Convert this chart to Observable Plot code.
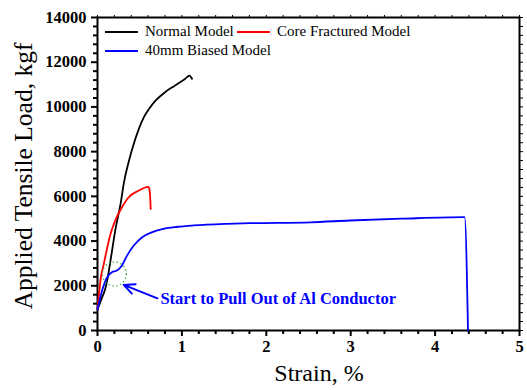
<!DOCTYPE html>
<html><head><meta charset="utf-8">
<script src="https://cdn.jsdelivr.net/npm/d3@7"></script>
<script src="https://cdn.jsdelivr.net/npm/@observablehq/plot@0.6"></script>
<style>
body{margin:0;background:#fff;}
#wrap{position:relative;width:527px;height:390px;overflow:hidden;}
.leg{position:absolute;font-family:"Liberation Serif","Times New Roman",serif;font-size:15px;display:flex;align-items:center;white-space:nowrap;line-height:1;}
.leg span.sw{display:inline-block;width:33px;height:0;border-top:2px solid;margin-right:7px;}
</style></head>
<body><div id="wrap"></div>
<script>
// Series: strain (%) and load (kgf)
const normalStrain = [0, 0.055, 0.086, 0.115, 0.154, 0.21, 0.28, 0.31, 0.37, 0.43, 0.49, 0.55, 0.61, 0.69, 0.80, 0.92, 1.04, 1.09, 1.12];
const normalLoad   = [940, 1490, 1790, 2240, 3130, 4470, 5810, 6550, 7550, 8350, 9020, 9540, 9910, 10290, 10660, 10960, 11260, 11400, 11260];

const coreStrain = [0, 0.015, 0.035, 0.075, 0.154, 0.21, 0.29, 0.37, 0.49, 0.58, 0.605, 0.62, 0.63];
const coreLoad   = [940, 1500, 2240, 2980, 4320, 4920, 5510, 5960, 6260, 6410, 6420, 6200, 5440];

const biasStrain = [0, 0.055, 0.115, 0.17, 0.23, 0.29, 0.35, 0.43, 0.53, 0.65, 0.78, 0.95, 1.14, 1.53, 1.81, 2.52, 2.99, 3.60, 4.35, 4.39];
const biasLoad   = [940, 1790, 2380, 2610, 2680, 2910, 3350, 3800, 4170, 4400, 4550, 4640, 4700, 4770, 4800, 4840, 4920, 5000, 5070, 0];

const seriesNames  = ["Normal Model", "Core Fractured Model", "40mm Biased Model"];
const seriesColors = ["#000000", "#ff0000", "#0000ff"];

const xMajor = [0, 1, 2, 3, 4, 5];
const yMajor = [0, 2000, 4000, 6000, 8000, 10000, 12000, 14000];

const xTitle = "Strain, %";
const yTitle = "Applied Tensile Load, kgf";

// annotation
const noteText = "Start to Pull Out of Al Conductor";
const noteCircle = {strain: 0.20, load: 2530};
const noteArrowFrom = {strain: 0.71, load: 1440};
const noteArrowTo = {strain: 0.31, load: 2040};

const toRows = (xs, ys, name) => xs.map((x, i) => ({strain: x, load: ys[i], series: name}));
const rows = [
  ...toRows(normalStrain, normalLoad, seriesNames[0]),
  ...toRows(coreStrain, coreLoad, seriesNames[1]),
  ...toRows(biasStrain, biasLoad, seriesNames[2])
];

const xAll = d3.range(0, 26).map(i => +(i * 0.2).toFixed(2));
const xMinor = xAll.filter(v => !xMajor.includes(v));
const yAll = d3.range(0, 36).map(i => i * 400);
const yMinor = yAll.filter(v => !yMajor.includes(v));

const serif = '"Liberation Serif","Times New Roman",serif';

const chart = Plot.plot({
  width: 527, height: 390,
  marginLeft: 97, marginRight: 8, marginTop: 17, marginBottom: 60,
  style: {fontFamily: serif, background: "white", overflow: "visible"},
  x: {domain: [0, 5]},
  y: {domain: [0, 14000]},
  color: {domain: seriesNames, range: seriesColors},
  marks: [
    Plot.frame({stroke: "black", strokeWidth: 2}),
    Plot.axisX({ticks: xMajor, tickSize: 6, tickPadding: 4, strokeWidth: 2, fontSize: 16.5, fontWeight: "bold", fill: "black",
      tickFormat: d => String(d), label: null}),
    Plot.axisX({ticks: xMinor, tickSize: 4, strokeWidth: 2, text: null, label: null}),
    Plot.axisX({anchor: "top", ticks: xAll, tickSize: 3, strokeWidth: 1, text: null, label: null}),
    Plot.axisY({ticks: yMajor, tickSize: 6, tickPadding: 5, strokeWidth: 2, fontSize: 16.5, fontWeight: "bold", fill: "black",
      tickFormat: d => String(d), label: null}),
    Plot.axisY({ticks: yMinor, tickSize: 4, strokeWidth: 2, text: null, label: null}),
    Plot.axisY({anchor: "right", ticks: yAll, tickSize: 3, strokeWidth: 1, text: null, label: null}),
    Plot.line(rows, {x: "strain", y: "load", z: "series", stroke: "series", strokeWidth: 1.8, curve: "monotone-x"}),
    Plot.dot([noteCircle], {x: "strain", y: "load", r: 12, stroke: "#33aa33", strokeWidth: 1.3, strokeDasharray: "1.3,2.6", fill: "none"}),
    Plot.arrow([{x1: noteArrowFrom.strain, y1: noteArrowFrom.load, x2: noteArrowTo.strain, y2: noteArrowTo.load}],
      {x1: "x1", y1: "y1", x2: "x2", y2: "y2", stroke: "#0000ff", strokeWidth: 2, headLength: 9, headAngle: 50}),
    Plot.text([noteArrowFrom], {x: "strain", y: "load", text: () => noteText, textAnchor: "start", dx: 3, fontSize: 16.5, fontWeight: "bold", fill: "#0000ff", fontFamily: serif})
  ]
});

const wrap = document.getElementById("wrap");
wrap.appendChild(chart);

// Axis titles as real SVG text
const svg = d3.select(chart);
svg.append("text")
  .attr("transform", "translate(32,176) rotate(-90)")
  .attr("text-anchor", "middle")
  .attr("font-family", serif)
  .attr("font-size", 25.5)
  .attr("fill", "black")
  .text(yTitle);
svg.append("text")
  .attr("x", 319).attr("y", 381)
  .attr("text-anchor", "middle")
  .attr("font-family", serif)
  .attr("font-size", 24)
  .attr("fill", "black")
  .text(xTitle);

// Legend
const legPos = [{left: 105, top: 24}, {left: 237, top: 24}, {left: 105, top: 43}];
seriesNames.forEach((n, i) => {
  const d = document.createElement("div");
  d.className = "leg";
  d.style.left = legPos[i].left + "px";
  d.style.top = legPos[i].top + "px";
  d.innerHTML = `<span class="sw" style="border-color:${seriesColors[i]}"></span>${n}`;
  wrap.appendChild(d);
});
</script></body></html>
